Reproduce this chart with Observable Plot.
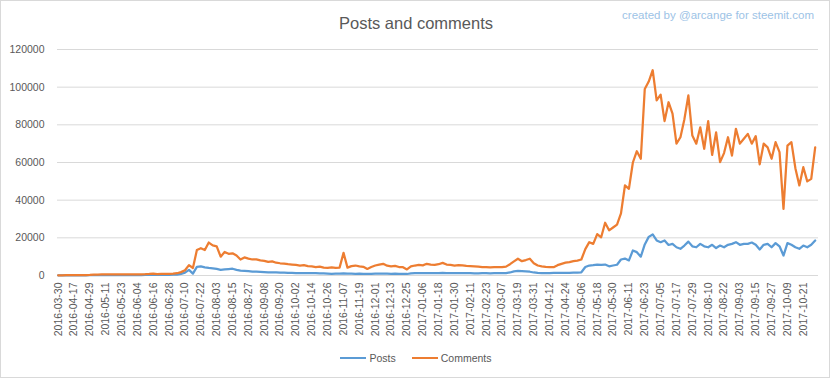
<!DOCTYPE html>
<html>
<head>
<meta charset="utf-8">
<script src="https://cdn.jsdelivr.net/npm/d3@7"></script>
<script src="https://cdn.jsdelivr.net/npm/@observablehq/plot@0.6"></script>
<style>
  html, body { margin: 0; padding: 0; background: #fff; }
  #wrap { position: relative; width: 832px; height: 379px; overflow: hidden; font-family: "Liberation Sans", Arial, sans-serif; }
  #border { position: absolute; left: 0; top: 0; width: 830px; height: 378px; box-sizing: border-box; border: 1px solid #d9d9d9; }
  #title { position: absolute; left: 0; width: 832px; top: 13px; line-height: 20px; text-align: center; font-size: 16.5px; color: #595959; }
  #credit { position: absolute; right: 18px; top: 8px; line-height: 14px; font-size: 11.5px; color: #9dc3e6; }
  #plot { position: absolute; left: 0; top: 40px; }
  #legend { position: absolute; left: 0; width: 832px; top: 351px; line-height: 14px; display: flex; justify-content: center; align-items: center; font-size: 10.5px; color: #595959; }
  .sw { display: inline-block; width: 26px; height: 2.5px; margin-right: 3px; }
  .item { display: flex; align-items: center; }
</style>
</head>
<body>
<div id="wrap">
  <div id="border"></div>
  <div id="title">Posts and comments</div>
  <div id="credit">created by @arcange for steemit.com</div>
  <div id="plot"></div>
  <div id="legend"></div>
</div>
<script>
// Category axis: one category per day (index 0 = 2016-03-30); values sampled every 3rd category
const sampleStep = 3;
const lastCategory = 575;

const tickLabels = ["2016-03-30","2016-04-17","2016-04-29","2016-05-11","2016-05-23","2016-06-04","2016-06-16","2016-06-28","2016-07-10","2016-07-22","2016-08-03","2016-08-15","2016-08-27","2016-09-08","2016-09-20","2016-10-02","2016-10-14","2016-10-26","2016-11-07","2016-11-19","2016-12-01","2016-12-13","2016-12-25","2017-01-06","2017-01-18","2017-01-30","2017-02-11","2017-02-23","2017-03-07","2017-03-19","2017-03-31","2017-04-12","2017-04-24","2017-05-06","2017-05-18","2017-05-30","2017-06-11","2017-06-23","2017-07-05","2017-07-17","2017-07-29","2017-08-10","2017-08-22","2017-09-03","2017-09-15","2017-09-27","2017-10-09","2017-10-21"];
const tickEvery = 12;

const yTicks = [0, 20000, 40000, 60000, 80000, 100000, 120000];

const seriesNames = ["Posts", "Comments"];
const seriesColors = ["#5b9bd5", "#ed7d31"];

const posts = [50,50,50,80,100,100,120,120,150,150,150,170,170,180,180,200,200,200,220,230,250,250,280,300,330,300,330,350,380,420,
500,900,1500,3000,1000,4600,4800,4300,4000,3800,3500,3000,3200,3400,3600,3000,2600,2500,2300,2100,2000,1900,1800,1700,1700,1600,1500,1500,1400,1400,
1300,1300,1300,1200,1200,1200,1100,1100,1000,900,1000,1000,1100,1000,950,900,950,900,850,900,1000,950,1000,950,900,950,900,850,800,1100,
1200,1200,1250,1300,1250,1300,1300,1350,1300,1300,1250,1300,1250,1200,1200,1150,1150,1200,1200,1150,1200,1200,1250,1300,1600,2200,2400,2300,2200,2000,
1600,1400,1300,1300,1300,1350,1400,1400,1450,1450,1500,1500,1700,4500,5300,5500,5800,5700,5800,4900,5300,5700,8500,9000,8000,13300,12400,10000,16500,20500,
21800,18600,17700,18600,16200,16800,15000,14200,15900,18000,15500,15000,16800,15500,15000,16300,14600,15900,15000,16300,16800,17700,16300,16800,16800,17500,16300,13800,16300,16800,
15000,17200,15500,10600,17200,16300,15000,14200,15900,15000,16300,18600];

const comments = [100,100,150,150,200,200,250,250,300,500,500,550,550,550,550,600,600,600,600,650,650,650,700,800,1000,700,900,800,900,1000,
1200,1800,2800,5500,4000,13500,14500,13500,17500,16000,15500,10000,12500,11500,11800,10600,8500,9600,9000,8500,8600,8000,7800,7200,7500,6800,6500,6300,6000,5800,
5600,5300,5500,5000,4800,4500,4700,4200,4100,4300,4000,4200,12000,4200,5000,5300,4800,4600,3500,4500,5300,5800,6200,5200,4900,5100,4500,4400,3200,4800,
5300,5600,5400,6200,5800,5600,6000,6700,5800,5600,5300,5500,5400,5100,5000,4900,4700,4400,4500,4300,4400,4500,4400,4700,6000,7500,8900,7600,8200,8900,
6500,5300,4900,4600,4400,4400,5500,6200,6800,7100,7600,7900,8500,14000,17700,16800,22000,20300,28000,24000,25500,27000,33000,47800,46000,60000,66000,62000,99000,103000,
109000,93000,96000,82000,92000,86000,70000,73400,83000,95600,74300,70000,78700,67300,82000,64000,76000,60200,65000,73400,63700,77900,70000,72600,75200,70000,74000,59000,70000,68000,
62000,70800,65500,35400,69000,70800,57000,47800,57500,50000,51300,68000];

const toRows = vals => vals.map((v, k) => ({ i: k * sampleStep, v }));
const postsRows = toRows(posts);
const commentsRows = toRows(comments);
const tickIdx = tickLabels.map((_, k) => k * tickEvery);

const chart = Plot.plot({
  width: 832,
  height: 305,
  marginLeft: 57,
  marginRight: 14,
  marginTop: 9,
  marginBottom: 70,
  style: { fontFamily: "'Liberation Sans', Arial, sans-serif", fontSize: "10.5px", color: "#595959", background: "transparent" },
  x: { domain: [-0.5, lastCategory + 0.5] },
  y: { domain: [0, 120000] },
  marks: [
    Plot.gridY(yTicks, { stroke: "#d9d9d9", strokeOpacity: 1, strokeWidth: 1 }),
    Plot.axisY(yTicks, { tickSize: 0, tickPadding: 13, tickFormat: d3.format("d"), label: null, fill: "#595959" }),
    Plot.axisX(tickIdx, { tickFormat: i => tickLabels[i / tickEvery], tickRotate: -90, tickSize: 0, tickPadding: 7, label: null, fill: "#595959" }),
    Plot.lineY(postsRows, { x: "i", y: "v", stroke: seriesColors[0], strokeWidth: 2.25, strokeLinejoin: "round", strokeLinecap: "round" }),
    Plot.lineY(commentsRows, { x: "i", y: "v", stroke: seriesColors[1], strokeWidth: 2.25, strokeLinejoin: "round", strokeLinecap: "round" })
  ]
});
document.getElementById("plot").appendChild(chart);

const legend = document.getElementById("legend");
seriesNames.forEach((name, k) => {
  const item = document.createElement("div");
  item.className = "item";
  if (k > 0) item.style.marginLeft = "16px";
  const sw = document.createElement("span");
  sw.className = "sw";
  sw.style.background = seriesColors[k];
  const t = document.createElement("span");
  t.textContent = name;
  item.appendChild(sw);
  item.appendChild(t);
  legend.appendChild(item);
});
</script>
</body>
</html>
